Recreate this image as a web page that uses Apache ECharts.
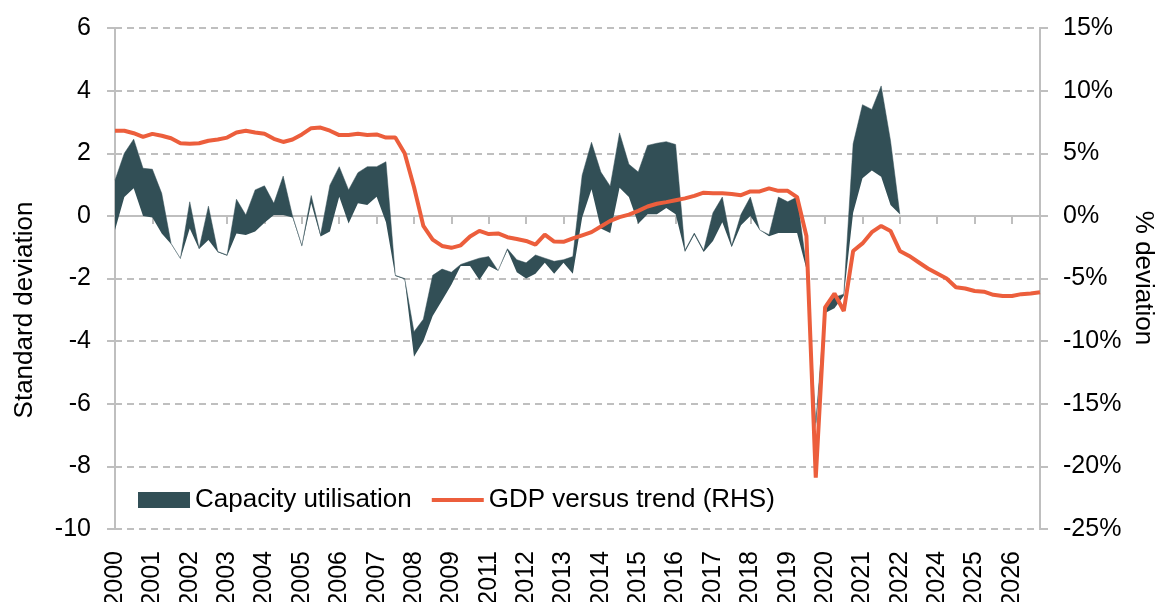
<!DOCTYPE html>
<html>
<head>
<meta charset="utf-8">
<script src="https://cdn.jsdelivr.net/npm/echarts/dist/echarts.min.js"></script>
<style>
html,body{margin:0;padding:0;background:#ffffff;}
#chart{width:1157px;height:602px;}
</style>
</head>
<body>
<div id="chart"></div>
<script>
// Year labels shown on the category axis (one per 4 quarterly points)
const yearLabels = ['2000','2001','2002','2003','2004','2005','2006','2007','2008','2009',
  '2011','2012','2013','2014','2015','2016','2017','2018','2019','2020','2021','2022',
  '2024','2025','2026'];
const quarters = ['Q1','Q2','Q3','Q4'];

// Capacity utilisation band (standard deviations): upper and lower edges
const capUpper = [1.14,2.0,2.45,1.52,1.49,0.72,-0.88,-1.36,0.45,-1.04,
  0.31,-1.14,-1.25,0.53,0.03,0.83,0.96,0.4,1.27,0.0,
  -0.95,0.65,-0.6,0.98,1.57,0.83,1.38,1.57,1.57,1.73,
  -1.9,-2.0,-3.7,-3.3,-1.9,-1.7,-1.8,-1.55,-1.45,-1.35,
  -1.3,-1.75,-1.05,-1.4,-1.5,-1.25,-1.35,-1.45,-1.4,-1.3,
  1.3,2.35,1.4,0.95,2.65,1.65,1.4,2.25,2.32,2.37,
  2.28,-1.1,-0.55,-1.1,0.1,0.6,-0.95,0.05,0.6,-0.45,
  -0.6,0.6,0.45,0.6,-1.6,-6.6,-2.9,-2.6,-2.5,2.3,
  3.55,3.4,4.15,2.4,0.05,null,null,null,null,null,
  null,null,null,null,null,null,null,null,null,null];
const capLower = [-0.45,0.6,0.88,0.0,-0.05,-0.56,-0.9,-1.37,-0.4,-1.06,
  -0.77,-1.16,-1.27,-0.56,-0.61,-0.5,-0.22,0.03,0.03,-0.05,
  -0.98,0.4,-0.66,-0.5,0.61,-0.24,0.4,0.35,0.61,-0.2,
  -1.92,-2.02,-4.5,-4.0,-3.2,-2.7,-2.2,-1.6,-1.6,-2.05,
  -1.6,-1.75,-1.1,-1.8,-2.0,-1.85,-1.5,-1.85,-1.5,-1.85,
  -0.05,0.85,-0.4,-0.55,0.9,0.6,-0.25,0.05,0.05,0.25,
  0.05,-1.15,-0.6,-1.15,-0.8,-0.2,-1.0,-0.3,0.0,-0.45,
  -0.65,-0.55,-0.55,-0.55,-1.7,-6.8,-3.1,-2.95,-2.55,0.1,
  1.2,1.45,1.25,0.35,0.0,null,null,null,null,null,
  null,null,null,null,null,null,null,null,null,null];

// GDP versus trend (% deviation, right-hand scale)
const gdpGap = [6.8,6.8,6.6,6.3,6.55,6.4,6.2,5.8,5.75,5.8,
  6.0,6.1,6.25,6.65,6.8,6.65,6.55,6.15,5.9,6.1,
  6.5,7.0,7.05,6.8,6.45,6.45,6.55,6.45,6.5,6.25,
  6.25,5.0,2.3,-0.8,-1.9,-2.4,-2.55,-2.35,-1.65,-1.2,
  -1.45,-1.4,-1.7,-1.85,-2.0,-2.3,-1.5,-2.05,-2.07,-1.8,
  -1.55,-1.3,-0.85,-0.4,-0.1,0.1,0.4,0.75,0.97,1.1,
  1.25,1.4,1.6,1.85,1.8,1.8,1.75,1.65,1.95,1.95,
  2.2,2.0,2.0,1.5,-1.6,-20.9,-7.3,-6.2,-7.6,-2.8,
  -2.2,-1.3,-0.8,-1.2,-2.8,-3.2,-3.7,-4.2,-4.6,-5.0,
  -5.7,-5.8,-6.0,-6.05,-6.3,-6.4,-6.4,-6.25,-6.2,-6.1];

const categories = yearLabels.flatMap(y => quarters.map(q => y + ' ' + q));
const capRange = capUpper.map((u, i) => (u == null || capLower[i] == null) ? null : +(u - capLower[i]).toFixed(3));

const DARK = '#324F56';
const ORANGE = '#EC5E3C';
const GRIDGREY = '#BFBFBF';
const FONT = 'Liberation Sans, Arial, sans-serif';

const chart = echarts.init(document.getElementById('chart'), null, {renderer: 'canvas'});
chart.setOption({
  animation: false,
  backgroundColor: '#ffffff',
  grid: {left: 115, right: 117, top: 28, bottom: 73, containLabel: false, outerBoundsMode: 'none'},
  legend: {
    left: 133, top: 482,
    itemWidth: 52, itemHeight: 16, itemGap: 20,
    textStyle: {fontSize: 26, color: '#000', fontFamily: FONT},
    data: [
      {name: 'Capacity utilisation', icon: 'rect'},
      {name: 'GDP versus trend (RHS)', icon: 'path://M0,0L52,0L52,4L0,4Z'}
    ]
  },
  xAxis: [
    {
      type: 'category', data: categories, boundaryGap: false, position: 'bottom',
      axisLine: {show: false, onZero: false}, axisTick: {show: false}, splitLine: {show: false},
      axisLabel: {interval: 3, rotate: 90, margin: 22, fontSize: 25, color: '#000', fontFamily: FONT,
        formatter: v => v.split(' ')[0]}
    },
    {
      type: 'category', data: categories, boundaryGap: false, position: 'bottom',
      axisLine: {show: true, onZero: true, onZeroAxisIndex: 0, lineStyle: {color: GRIDGREY, width: 2}},
      axisTick: {show: true, interval: 3, length: 8, lineStyle: {color: GRIDGREY, width: 2}},
      axisLabel: {show: false}, splitLine: {show: false}
    }
  ],
  yAxis: [
    {
      type: 'value', min: -10, max: 6, interval: 2, position: 'left',
      axisLine: {show: true, lineStyle: {color: GRIDGREY, width: 2}},
      axisTick: {show: true, length: 8, lineStyle: {color: GRIDGREY, width: 2}},
      axisLabel: {margin: 24, fontSize: 25, color: '#000', fontFamily: FONT},
      splitLine: {show: true, lineStyle: {color: GRIDGREY, width: 2, type: [7, 5]}}
    },
    {
      type: 'value', min: -25, max: 15, interval: 5, position: 'right',
      axisLine: {show: true, lineStyle: {color: GRIDGREY, width: 2}},
      axisTick: {show: true, length: 8, lineStyle: {color: GRIDGREY, width: 2}},
      axisLabel: {margin: 23, fontSize: 25, color: '#000', fontFamily: FONT, formatter: '{value}%'},
      splitLine: {show: false}
    }
  ],
  graphic: [
    {type: 'text', x: 25, y: 310, rotation: Math.PI / 2,
      style: {text: 'Standard deviation', font: '26px ' + FONT, fill: '#000', textAlign: 'center', textVerticalAlign: 'middle'}},
    {type: 'text', x: 1143, y: 278, rotation: -Math.PI / 2,
      style: {text: '% deviation', font: '26px ' + FONT, fill: '#000', textAlign: 'center', textVerticalAlign: 'middle'}}
  ],
  series: [
    {
      name: 'capBase', type: 'line', xAxisIndex: 0, yAxisIndex: 0,
      data: capLower, stack: 'cap', stackStrategy: 'all', symbol: 'none', silent: true,
      lineStyle: {opacity: 0}, itemStyle: {color: DARK}
    },
    {
      name: 'Capacity utilisation', type: 'line', xAxisIndex: 0, yAxisIndex: 0,
      data: capRange, stack: 'cap', stackStrategy: 'all', symbol: 'none', silent: true,
      color: DARK,
      lineStyle: {width: 0.5, color: DARK}, itemStyle: {color: DARK},
      areaStyle: {color: DARK, opacity: 1}
    },
    {
      name: 'GDP versus trend (RHS)', type: 'line', xAxisIndex: 0, yAxisIndex: 1,
      data: gdpGap, symbol: 'none', silent: true, color: ORANGE,
      lineStyle: {width: 4, color: ORANGE}, itemStyle: {color: ORANGE}
    }
  ]
});
</script>
</body>
</html>
